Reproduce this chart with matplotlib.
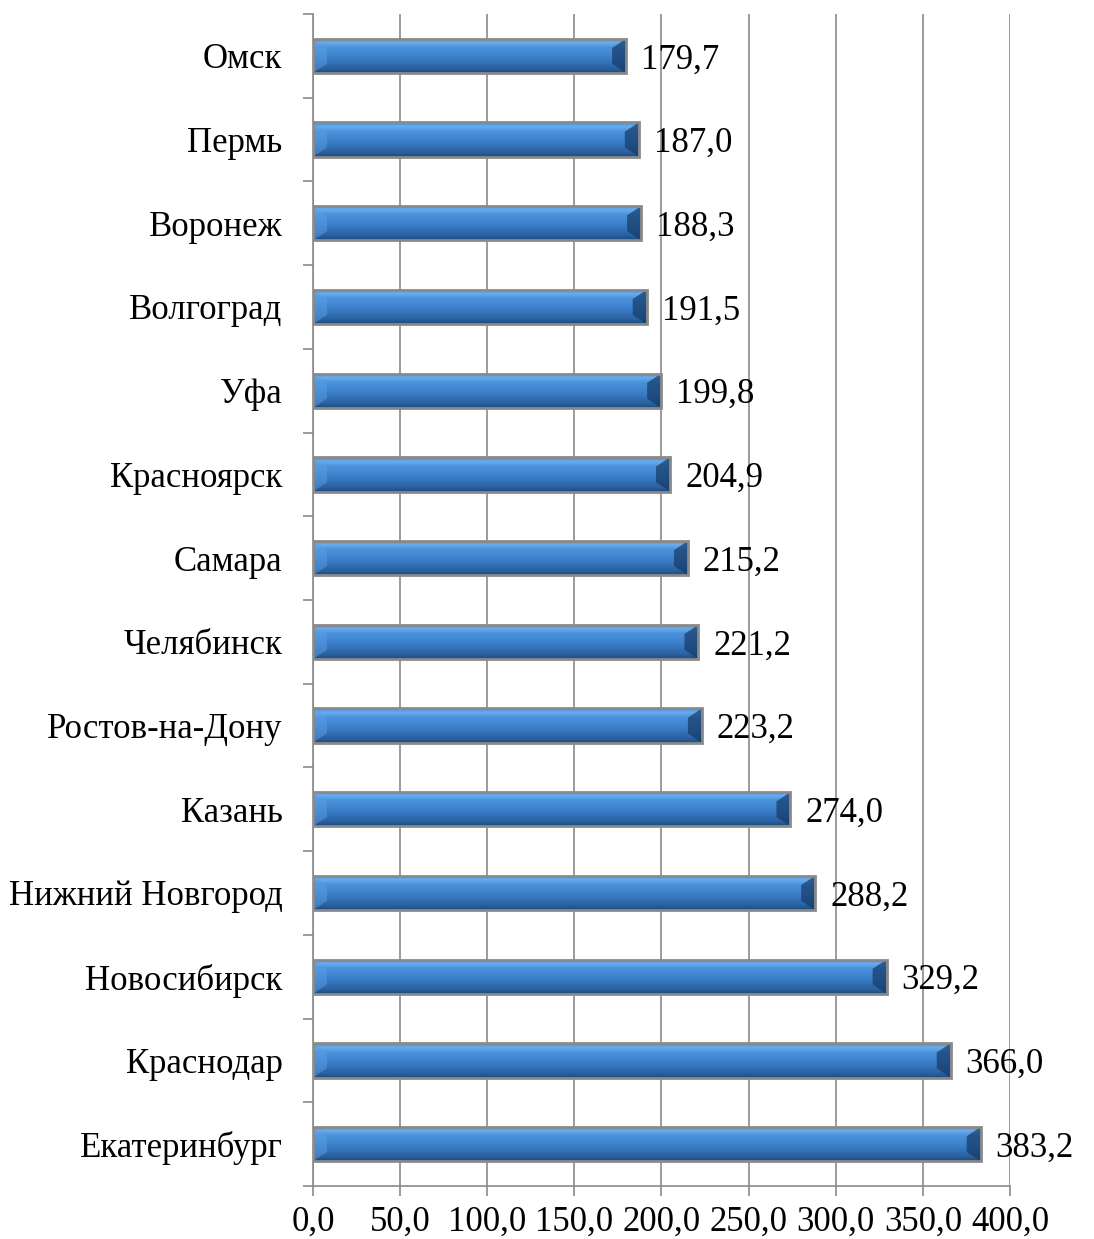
import matplotlib
matplotlib.use("Agg")
import matplotlib.pyplot as plt
import numpy as np
from matplotlib.colors import LinearSegmentedColormap
from matplotlib.patches import Polygon

cities = ["Екатеринбург", "Краснодар", "Новосибирск", "Нижний Новгород", "Казань",
          "Ростов-на-Дону", "Челябинск", "Самара", "Красноярск", "Уфа",
          "Волгоград", "Воронеж", "Пермь", "Омск"]
values = [383.2, 366.0, 329.2, 288.2, 274.0, 223.2, 221.2, 215.2, 204.9, 199.8,
          191.5, 188.3, 187.0, 179.7]
xticks = [0, 50, 100, 150, 200, 250, 300, 350, 400]

plt.rcParams['font.family'] = ['Liberation Serif', 'DejaVu Serif']
FS = 25

fig = plt.figure(figsize=(10.94, 12.39), dpi=100)
ax = fig.add_axes([0.2861, 0.0428, 0.6371, 0.9459])

y = np.arange(len(cities))
h = 0.41
bars = ax.barh(y, values, height=h, color='#3a7cc6', edgecolor='none', zorder=3)

cmap = LinearSegmentedColormap.from_list('bev', [
    (0.0, '#1c4a80'), (0.12, '#2a609e'), (0.45, '#3b7fca'),
    (0.75, '#4d93dc'), (0.88, '#6aaef0'), (1.0, '#4a88cc')])
grad = np.linspace(0, 1, 64).reshape(-1, 1)

bx = 400 * 14 / 697.0   # bevel width in data units
by = h * 0.27
for yi, v, b in zip(y, values, bars):
    im = ax.imshow(grad, extent=(0, v, yi - h / 2, yi + h / 2), origin='lower',
                   cmap=cmap, aspect='auto', zorder=4, interpolation='bilinear')
    im.set_clip_path(b)
    # right bevel (dark)
    ax.add_patch(Polygon([(v - bx, yi - h / 2 + by), (v, yi - h / 2), (v, yi + h / 2),
                          (v - bx, yi + h / 2 - by)], closed=True,
                         facecolor='#163a66', alpha=0.7, edgecolor='none', zorder=5))
    # left bevel (lighter)
    ax.add_patch(Polygon([(0, yi - h / 2), (bx, yi - h / 2 + by), (bx, yi + h / 2 - by),
                          (0, yi + h / 2)], closed=True,
                         facecolor='#5a9ee6', alpha=0.5, edgecolor='none', zorder=5))
    ax.add_patch(plt.Rectangle((0, yi - h / 2), v, h, fill=False,
                               edgecolor='#8a8a8a', lw=2.0, zorder=6))
    ax.text(v + 400 * 15 / 697.0, yi, f"{v:.1f}".replace('.', ','), va='center_baseline',
            ha='left', fontsize=FS, color='black', zorder=7)

ax.set_xlim(0, 400)
ax.set_ylim(-0.5, len(cities) - 0.5)
ax.set_xticks(xticks)
ax.set_xticklabels([f"{t:.1f}".replace('.', ',') for t in xticks], fontsize=FS)
ax.set_yticks(y)
ax.set_yticklabels(cities, fontsize=FS, va='center_baseline')
ax.set_yticks(np.arange(-0.5, len(cities), 1.0), minor=True)

ax.tick_params(axis='y', which='major', length=0, pad=22)
ax.tick_params(axis='y', which='minor', length=7.5, width=1.2, color='#8a8a8a', direction='out')
ax.tick_params(axis='x', which='major', length=7.5, width=1.2, color='#8a8a8a', pad=7)

ax.grid(axis='x', color='#8a8a8a', lw=1.2, zorder=0)
ax.set_axisbelow(True)
for s in ['top', 'right']:
    ax.spines[s].set_visible(False)
for s in ['left', 'bottom']:
    ax.spines[s].set_color('#8a8a8a')
    ax.spines[s].set_linewidth(1.2)

fig.savefig('out.png', dpi=100)
